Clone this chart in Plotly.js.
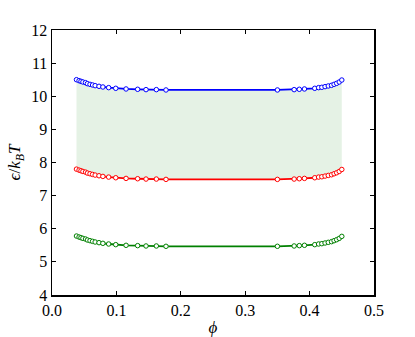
<!DOCTYPE html>
<html>
<head>
<meta charset="utf-8">
<script src="https://cdn.plot.ly/plotly-3.0.1.min.js"></script>
<style>body{margin:0;background:#fff}#plot{width:415px;height:337px}</style>
</head>
<body>
<div id="plot"></div>
<script>
"use strict";
// packing fraction samples
var phi = [0.038, 0.042, 0.045, 0.048, 0.052, 0.055, 0.059, 0.063, 0.067, 0.073, 0.079, 0.088, 0.099, 0.115, 0.133, 0.146, 0.162, 0.177,
           0.350, 0.376, 0.384, 0.392, 0.408, 0.414, 0.419, 0.424, 0.429, 0.434, 0.438, 0.442, 0.446, 0.450];
var upper = [10.50, 10.47, 10.45, 10.43, 10.41, 10.38, 10.36, 10.34, 10.32, 10.30, 10.28, 10.26, 10.24, 10.22, 10.21, 10.20, 10.20, 10.19,
             10.19, 10.20, 10.21, 10.22, 10.24, 10.26, 10.27, 10.29, 10.31, 10.33, 10.36, 10.39, 10.43, 10.49];
var middle = [7.80, 7.77, 7.75, 7.73, 7.71, 7.68, 7.66, 7.64, 7.62, 7.60, 7.58, 7.56, 7.54, 7.52, 7.51, 7.50, 7.50, 7.49,
              7.49, 7.50, 7.51, 7.52, 7.54, 7.56, 7.57, 7.59, 7.61, 7.63, 7.66, 7.69, 7.73, 7.79];
var lower = [5.78, 5.75, 5.73, 5.71, 5.69, 5.66, 5.64, 5.62, 5.60, 5.58, 5.56, 5.54, 5.52, 5.50, 5.49, 5.48, 5.48, 5.47,
             5.47, 5.48, 5.49, 5.50, 5.52, 5.54, 5.55, 5.57, 5.59, 5.61, 5.64, 5.67, 5.71, 5.77];
var xticks = [0.0, 0.1, 0.2, 0.3, 0.4, 0.5];
var yticks = [4, 5, 6, 7, 8, 9, 10, 11, 12];

function series(y, col){
  return {
    x: phi, y: y, type: 'scatter', mode: 'lines+markers', showlegend: false,
    line: {color: col, width: 1.8},
    marker: {symbol: 'circle', size: 4.5, color: '#ffffff', line: {color: col, width: 1}}
  };
}

var band_lo = {x: phi, y: middle, type: 'scatter', mode: 'lines', line: {width: 0}, showlegend: false, hoverinfo: 'skip'};
var band_hi = {x: phi, y: upper, type: 'scatter', mode: 'lines', line: {width: 0}, fill: 'tonexty',
               fillcolor: 'rgba(0,128,0,0.1)', showlegend: false, hoverinfo: 'skip'};

var data = [band_lo, band_hi, series(upper, '#0000ff'), series(middle, '#ff0000'), series(lower, '#008000')];

var fnt = {family: 'Liberation Serif, DejaVu Serif, serif', size: 16, color: '#000'};
var format = {
  width: 415, height: 337,
  margin: {l: 52, r: 41, t: 30, b: 42},
  paper_bgcolor: '#fff', plot_bgcolor: '#fff',
  font: fnt,
  xaxis: {
    range: [0, 0.5], tickvals: xticks, ticktext: xticks.map(function(v){return v.toFixed(1);}),
    ticks: 'inside', ticklen: 4, tickcolor: '#000', mirror: 'ticks',
    showline: true, linecolor: '#000', linewidth: 1.5, showgrid: false, zeroline: false,
    title: {text: '<i>ϕ</i>', font: {family: fnt.family, size: 17}, standoff: 4}
  },
  yaxis: {
    range: [4, 12], tickvals: yticks,
    ticks: 'inside', ticklen: 4, tickcolor: '#000', mirror: 'ticks',
    showline: true, linecolor: '#000', linewidth: 1.5, showgrid: false, zeroline: false,
    title: {text: '<i>ϵ</i>/<i>k</i><sub><i>B</i></sub><i>T</i>', font: {family: fnt.family, size: 17}, standoff: 6}
  }
};

Plotly.newPlot('plot', data, format, {staticPlot: true});
</script>
</body>
</html>
